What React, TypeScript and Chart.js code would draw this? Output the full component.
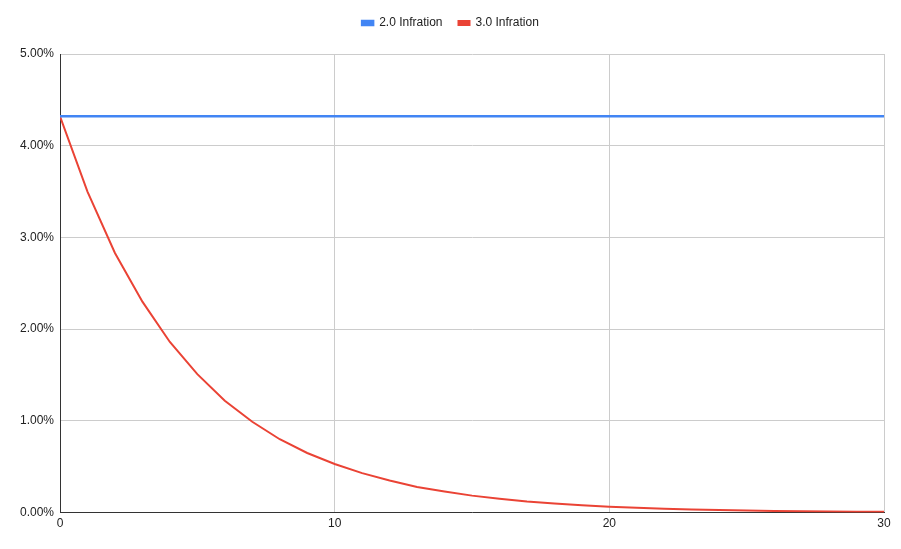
import React, { useEffect, useRef } from "react";
import { Chart, registerables } from "chart.js";

Chart.register(...registerables);

const years = [0, 1, 2, 3, 4, 5, 6, 7, 8, 9, 10, 11, 12, 13, 14, 15, 16, 17, 18, 19, 20, 21, 22, 23, 24, 25, 26, 27, 28, 29, 30];
const inflation20 = [4.32, 4.32, 4.32, 4.32, 4.32, 4.32, 4.32, 4.32, 4.32, 4.32, 4.32, 4.32, 4.32, 4.32, 4.32, 4.32, 4.32, 4.32, 4.32, 4.32, 4.32, 4.32, 4.32, 4.32, 4.32, 4.32, 4.32, 4.32, 4.32, 4.32, 4.32];
const inflation30 = [4.32, 3.5, 2.83, 2.3, 1.86, 1.51, 1.22, 0.99, 0.8, 0.65, 0.53, 0.43, 0.35, 0.28, 0.23, 0.185, 0.15, 0.12, 0.098, 0.08, 0.065, 0.053, 0.043, 0.035, 0.028, 0.023, 0.018, 0.015, 0.012, 0.01, 0.008];
const seriesNames = ["2.0 Infration", "3.0 Infration"];
const yTicks = [0, 1, 2, 3, 4, 5];
const xTicks = [0, 10, 20, 30];

const legendHeightPlugin = {
  id: "legendHeight",
  beforeInit(chart: any) {
    const legend = chart.legend;
    if (!legend) return;
    const origFit = legend.fit;
    legend.fit = function () {
      origFit.call(this);
      this.height = 53;
    };
  },
};

export default function App() {
  const ref = useRef<HTMLCanvasElement | null>(null);
  useEffect(() => {
    document.body.style.margin = "0";
    if (!ref.current) return;
    const font = { family: "Arial, 'Liberation Sans', sans-serif", size: 12 };
    const chart = new Chart(ref.current, {
      type: "line",
      plugins: [legendHeightPlugin],
      data: {
        datasets: [
          {
            label: seriesNames[0],
            data: years.map((x, i) => ({ x, y: inflation20[i] })),
            borderColor: "#4285F4",
            backgroundColor: "#4285F4",
            borderWidth: 2.5,
            pointRadius: 0,
            tension: 0,
          },
          {
            label: seriesNames[1],
            data: years.map((x, i) => ({ x, y: inflation30[i] })),
            borderColor: "#EA4335",
            backgroundColor: "#EA4335",
            borderWidth: 2,
            pointRadius: 0,
            tension: 0,
          },
        ],
      },
      options: {
        animation: false,
        responsive: false,
        maintainAspectRatio: false,
        layout: { padding: { left: 17, right: 17, top: 1, bottom: 14 } },
        plugins: {
          tooltip: { enabled: false },
          legend: {
            position: "top",
            labels: {
              boxWidth: 11,
              boxHeight: 4,
              color: "#222",
              font,
              padding: 16,
            },
          },
        },
        scales: {
          x: {
            type: "linear",
            min: 0,
            max: 30,
            afterBuildTicks: (s: any) => {
              s.ticks = xTicks.map((v) => ({ value: v }));
            },
            ticks: { color: "#222", font, padding: 4, maxRotation: 0 },
            grid: { color: "#cccccc", drawTicks: false },
            border: { color: "#333333", width: 1 },
          },
          y: {
            min: 0,
            max: 5,
            afterBuildTicks: (s: any) => {
              s.ticks = yTicks.map((v) => ({ value: v }));
            },
            afterFit: (s: any) => {
              s.width = 43;
            },
            ticks: {
              color: "#222",
              font,
              padding: 6,
              callback: (v: any) => Number(v).toFixed(2) + "%",
            },
            grid: { color: "#cccccc", drawTicks: false },
            border: { color: "#333333", width: 1 },
          },
        },
      },
    });
    return () => chart.destroy();
  }, []);
  return (
    <div style={{ width: 901, height: 549, background: "#fff" }}>
      <canvas ref={ref} width={901} height={549} style={{ width: 901, height: 549 }} />
    </div>
  );
}
